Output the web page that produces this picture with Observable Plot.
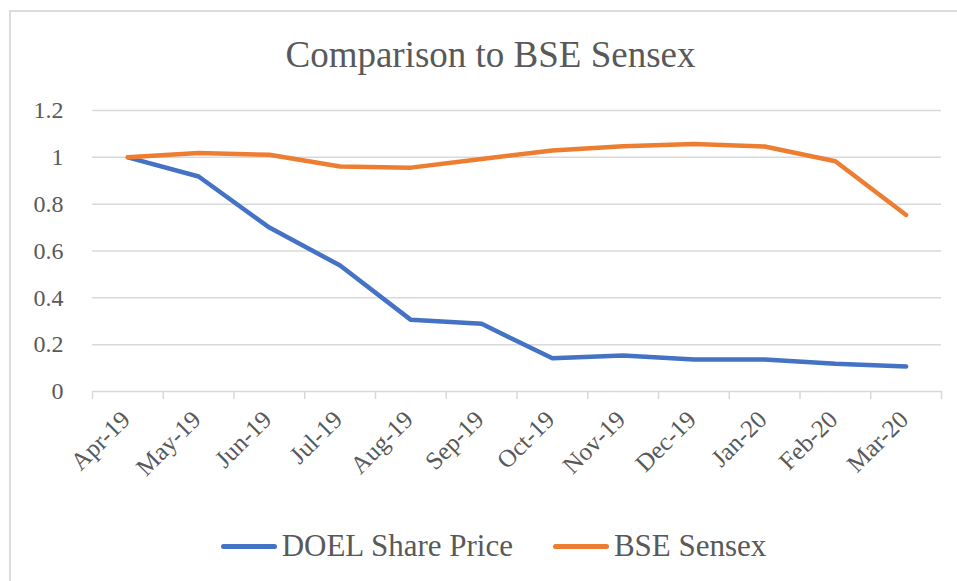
<!DOCTYPE html>
<html>
<head>
<meta charset="utf-8">
<script src="https://cdn.jsdelivr.net/npm/d3@7"></script>
<script src="https://cdn.jsdelivr.net/npm/@observablehq/plot@0.6"></script>
<style>
  html, body { margin: 0; padding: 0; background: #fff; }
  #chart { position: relative; width: 957px; height: 581px; overflow: hidden; font-family: 'Liberation Serif', serif; color: #595959; }
  #frame { position: absolute; left: 9px; top: 10px; width: 970px; height: 600px; border: 2px solid #dcdcdc; box-sizing: border-box; }
  #title { position: absolute; left: 0; top: 0; width: 957px; height: 90px; text-align: center; font-size: 37px; line-height: 110px; padding-left: 24px; box-sizing: border-box; }
  #plot { position: absolute; left: 0; top: 90px; }
  #legend { position: absolute; left: 0; top: 521px; width: 957px; height: 50px; display: flex; justify-content: center; align-items: center; font-size: 31px; padding-left: 30px; box-sizing: border-box; }
  .item { display: flex; align-items: center; margin: 0 20px; }
  .sw { width: 56px; height: 5px; border-radius: 3px; margin-right: 5px; }
</style>
</head>
<body>
<div id="chart">
  <div id="frame"></div>
  <div id="title">Comparison to BSE Sensex</div>
  <div id="plot"></div>
  <div id="legend"></div>
</div>
<script>
const months = ["Apr-19","May-19","Jun-19","Jul-19","Aug-19","Sep-19","Oct-19","Nov-19","Dec-19","Jan-20","Feb-20","Mar-20"];
const doel = [1.0, 0.918, 0.70, 0.538, 0.306, 0.289, 0.142, 0.154, 0.137, 0.137, 0.118, 0.107];
const sensex = [1.0, 1.018, 1.011, 0.961, 0.956, 0.993, 1.029, 1.047, 1.057, 1.046, 0.983, 0.754];
const yTicks = [0, 0.2, 0.4, 0.6, 0.8, 1, 1.2];
const seriesNames = ["DOEL Share Price", "BSE Sensex"];
const seriesColors = ["#4472C4", "#ED7D31"];

const rows = [];
months.forEach((m, i) => {
  rows.push({series: seriesNames[0], idx: i + 0.5, value: doel[i]});
  rows.push({series: seriesNames[1], idx: i + 0.5, value: sensex[i]});
});
const centers = months.map((m, i) => i + 0.5);
const bounds = d3.range(months.length + 1);

const chart = Plot.plot({
  width: 957,
  height: 430,
  marginTop: 20,
  marginBottom: 129,
  marginLeft: 92,
  marginRight: 16,
  style: {fontFamily: "'Liberation Serif', serif", color: "#595959", background: "transparent"},
  x: {type: "linear", domain: [0, months.length], label: null},
  y: {domain: [0, 1.2], label: null},
  color: {domain: seriesNames, range: seriesColors},
  marks: [
    Plot.ruleY(yTicks.filter(d => d > 0), {stroke: "#d9d9d9", strokeWidth: 1.5}),
    Plot.ruleY([0], {stroke: "#d9d9d9", strokeWidth: 1.5}),
    Plot.axisX({ticks: bounds, tickSize: 8, tickFormat: () => "", label: null, stroke: "#d9d9d9", strokeWidth: 1.5, strokeOpacity: 1}),
    Plot.axisX({ticks: centers, tickSize: 0, label: null, tickFormat: d => months[Math.round(d - 0.5)], tickRotate: -45, fontSize: 25, fill: "#595959", tickPadding: 24, textAnchor: "end", dx: -2}),
    Plot.axisY({ticks: yTicks, tickSize: 0, tickPadding: 29, label: null, fontSize: 24, fill: "#595959", tickFormat: d => String(d)}),
    Plot.line(rows, {x: "idx", y: "value", z: "series", stroke: "series", strokeWidth: 4.5, strokeLinecap: "round", strokeLinejoin: "round"})
  ]
});
document.getElementById("plot").appendChild(chart);

const legend = document.getElementById("legend");
seriesNames.forEach((n, i) => {
  const it = document.createElement("div");
  it.className = "item";
  const sw = document.createElement("div");
  sw.className = "sw";
  sw.style.background = seriesColors[i];
  const t = document.createElement("span");
  t.textContent = n;
  it.appendChild(sw); it.appendChild(t);
  legend.appendChild(it);
});
</script>
</body>
</html>
